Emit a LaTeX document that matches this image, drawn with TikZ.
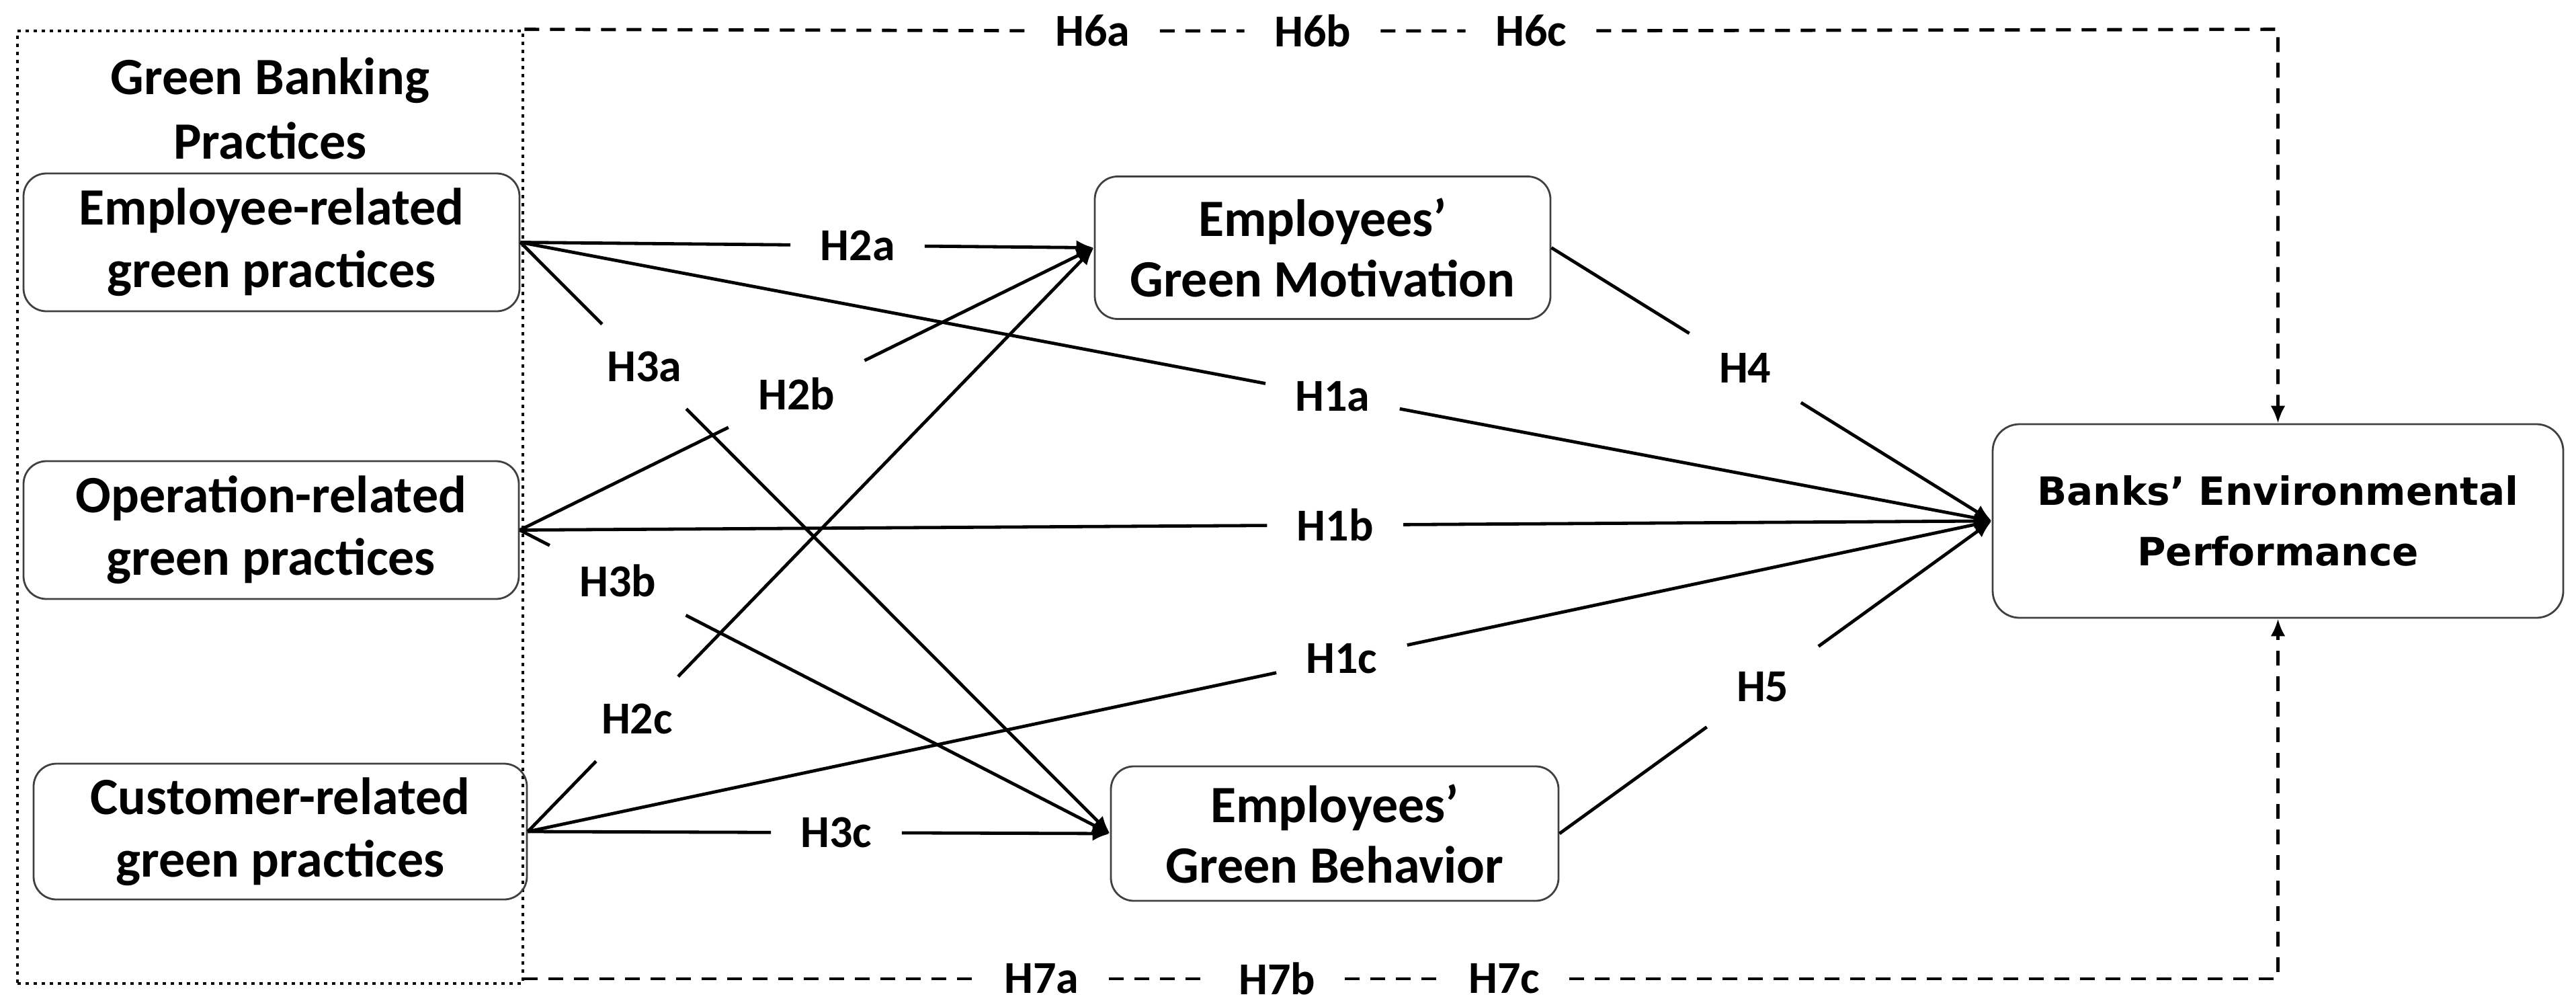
\documentclass[tikz,border=0pt]{standalone}
\usepackage{fontspec}
\newfontfamily\calfont{Carlito}
\newfontfamily\dvsfont{DejaVu Sans}
\usetikzlibrary{arrows.meta,calc}
\begin{document}
\begin{tikzpicture}[x=1pt,y=-1pt,
  box/.style={draw=black!75, line width=1.4pt, rounded corners=17pt, align=center, inner sep=0pt,
    font=\calfont\bfseries\fontsize{39}{45}\selectfont},
  leftbox/.style={box, font=\calfont\bfseries\fontsize{39}{46.5}\selectfont,
    execute at begin node={\rule{0pt}{33pt}}},
  lbl/.style={font=\calfont\bfseries\fontsize{34}{40}\selectfont, inner xsep=22pt, inner ysep=20pt},
  conn/.style={line width=2.4pt, black},
  tip/.style={-{Latex[length=13pt,width=11pt]}},
  dashln/.style={line width=2.4pt, dash pattern=on 11pt off 8pt},
  dotbox/.style={draw, line width=2.4pt, dash pattern=on 2.4pt off 3.6pt, inner sep=0pt}
]
\useasboundingbox (0,0) rectangle (1916.5,747);
% group box
\node[dotbox, minimum width=376pt, minimum height=708.5pt] (gbp) at (201,377.25) {};
\node[font=\calfont\bfseries\fontsize{39}{48}\selectfont, align=center] (title) at (201,80.5) {Green Banking\\Practices};
% boxes
\node[leftbox, minimum width=369pt, minimum height=102.5pt] (erg) at (202,180.25) {Employee-related\\green practices};
\node[leftbox, minimum width=368.5pt, minimum height=102.5pt] (org) at (201.75,394.25) {Operation-related\\green practices};
\node[leftbox, minimum width=367pt, minimum height=101pt] (crg) at (208.5,618.5) {Customer-related\\green practices};
\node[box, minimum width=339pt, minimum height=106pt] (egm) at (984,184.25) {Employees’\\Green Motivation};
\node[box, minimum width=333pt, minimum height=100pt] (egb) at (993,620) {Employees’\\Green Behavior};
\node[box, rounded corners=20pt, minimum width=424.5pt, minimum height=144pt,
  font=\dvsfont\bfseries\fontsize{29}{45}\selectfont] (bep) at (1694.75,387.5) {Banks’ Environmental\\Performance};
% labels on the paths
\path (erg.east) -- (egm.west) node[lbl,pos=0.588] (l2a) {H2a};
\path (erg.east) -- (bep.west) node[lbl,pos=0.552] (l1a) {H1a};
\path (erg.east) -- (egb.west) node[lbl,pos=0.21] (l3a) {H3a};
\path (org.east) -- (egm.west) node[lbl,pos=0.482] (l2b) {H2b};
\path (org.east) -- (bep.west) node[lbl,pos=0.554] (l1b) {H1b};
\path (org.east) -- (egb.west) node[lbl,pos=0.166] (l3b) {H3b};
\path (crg.east) -- (egm.west) node[lbl,pos=0.193] (l2c) {H2c};
\path (crg.east) -- (bep.west) node[lbl,pos=0.556] (l1c) {H1c};
\path (crg.east) -- (egb.west) node[lbl,pos=0.53] (l3c) {H3c};
\path (egm.east) -- (bep.west) node[lbl,pos=0.44] (l4) {H4};
\path (egb.east) -- (bep.west) node[lbl,pos=0.47] (l5) {H5};
% connectors
\foreach \s/\l/\t in {erg/l2a/egm, erg/l1a/bep, erg/l3a/egb, org/l2b/egm, org/l1b/bep, org/l3b/egb,
                      crg/l2c/egm, crg/l1c/bep, crg/l3c/egb, egm/l4/bep, egb/l5/bep} {
  \draw[conn] (\s.east) -- (\l);
  \draw[conn,tip] (\l) -- (\t.west);
}
% dashed moderation paths
\coordinate (tr) at (bep.north |- gbp.north east);
\node[lbl] (l6a) at (813,23) {H6a};
\node[lbl] (l6b) at (976.5,23) {H6b};
\node[lbl] (l6c) at (1139,23) {H6c};
\draw[dashln] (gbp.north east) -- (l6a) -- (l6b) -- (l6c) -- (tr) -- ([yshift=8pt]bep.north);
\draw[conn,tip] ([yshift=9pt]bep.north) -- (bep.north);
\coordinate (bl) at (389,728);
\coordinate (br) at (bep.south |- bl);
\node[lbl] (l7a) at (775,728) {H7a};
\node[lbl] (l7b) at (950,728) {H7b};
\node[lbl] (l7c) at (1119,728) {H7c};
\draw[dashln] (bl) -- (l7a) -- (l7b) -- (l7c) -- (br) -- ([yshift=-8pt]bep.south);
\draw[conn,tip] ([yshift=-9pt]bep.south) -- (bep.south);
\end{tikzpicture}
\end{document}
